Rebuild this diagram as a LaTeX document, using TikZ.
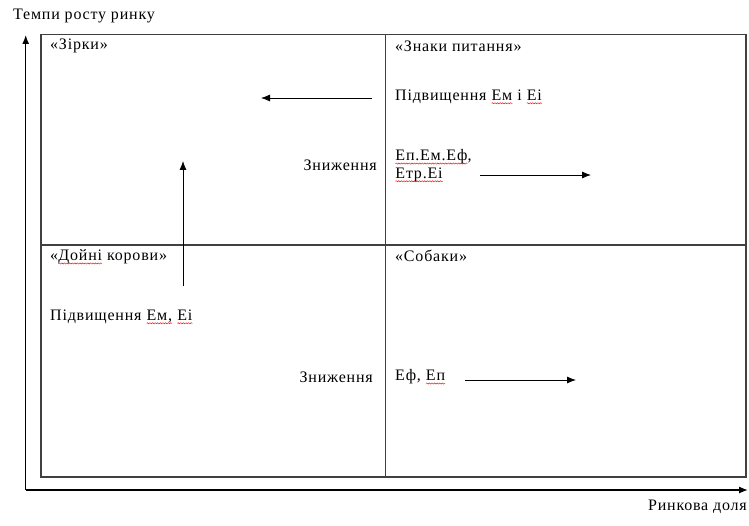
\documentclass[tikz,border=0pt]{standalone}
\usepackage{fontspec}
\setmainfont{Liberation Serif}[LetterSpace=5]
\usetikzlibrary{arrows.meta,decorations.pathmorphing}
\newcommand\sq[1]{\tikz[baseline=(w.base),x=1pt,y=1pt]{\node[inner sep=0pt,outer sep=0pt,anchor=base west,draw=none] (w) {#1};\draw[red,line width=0.45pt,decorate,decoration={snake,amplitude=0.6pt,segment length=2.6pt}] ([yshift=-2.8pt]w.base west) -- ([yshift=-2.8pt]w.base east);}}
\tikzset{
  lbl/.style={inner sep=0pt, anchor=west, font=\fontsize{16}{17}\selectfont},
  lblr/.style={lbl, anchor=east},
  axis/.style={line width=1.3pt, -{Latex[length=9pt,width=7pt]}},
  grid/.style={line width=1.2pt, draw=black!75},
  arr/.style={line width=0.8pt, -{Latex[length=9pt,width=7pt]}}
}
\begin{document}
\begin{tikzpicture}[x=1pt,y=-1pt]
\useasboundingbox (0,0) rectangle (749,526);
% axes
\coordinate (O) at (25.7,490);
\coordinate (Ytop) at (25.7,35);
\coordinate (Xend) at (748,490);
\draw[axis] (O) -- (Ytop);
\draw[axis] (O) -- (Xend);
\node[lbl] (ylab) at (13,16) {Темпи росту ринку};
\node[lbl, anchor=east] (xlab) at (747,507) {Ринкова доля};
% grid
\coordinate (TL) at (41,34.7);
\coordinate (BR) at (746,477);
\coordinate (MT) at (385.7,34.7);
\coordinate (MB) at (385.7,477);
\coordinate (ML) at (41,245);
\coordinate (MR) at (746,245);
\draw[grid] (TL) rectangle (BR);
\draw[grid] (MT) -- (MB);
\draw[grid] (ML) -- (MR);
% quadrant labels
\node[lbl] (stars) at (50,46) {«Зірки»};
\node[lbl] (quest) at (395,46) {«Знаки питання»};
\node[lbl] (cows) at (50,257) {«\sq{Дойні} корови»};
\node[lbl] (dogs) at (395,256) {«Собаки»};
% texts
\node[lbl] (up1) at (395,97) {Підвищення \sq{Ем} і \sq{Еі}};
\node[lblr] (down1) at (377,165) {Зниження};
\node[lbl] (ep1) at (395,157) {\sq{Еп.Ем.Еф},};
\node[lbl] (ep2) at (395,175) {\sq{Етр.Еі}};
\node[lbl] (up2) at (50,317) {Підвищення \sq{Ем,} \sq{Еі}};
\node[lblr] (down2) at (373,377) {Зниження};
\node[lbl] (ef) at (395,377) {Еф, \sq{Еп}};
% arrows
\coordinate (a1s) at (372,98);
\coordinate (a1e) at (261,98);
\draw[arr] (a1s) -- (a1e);
\coordinate (a2s) at (183,286);
\coordinate (a2e) at (183,161);
\draw[arr] (a2s) -- (a2e);
\coordinate (a3s) at (480,175);
\coordinate (a3e) at (591,175);
\draw[arr] (a3s) -- (a3e);
\coordinate (a4s) at (465,380);
\coordinate (a4e) at (576,380);
\draw[arr] (a4s) -- (a4e);
\end{tikzpicture}
\end{document}
